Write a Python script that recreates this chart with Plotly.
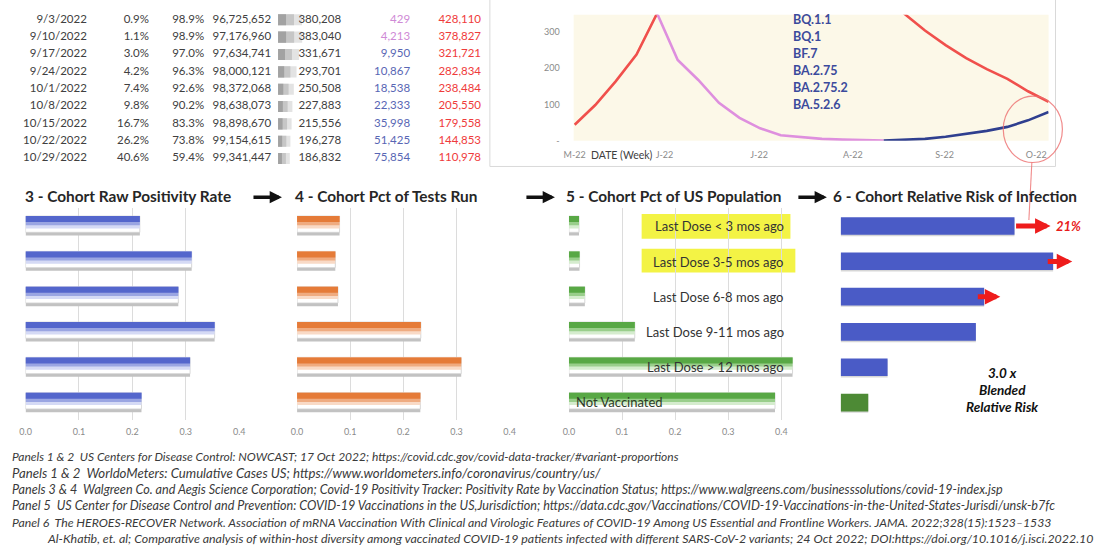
import plotly.graph_objects as go

W, H = 1095, 552
FONT = "Lato, 'Open Sans', sans-serif"

# ---------------- data ----------------
DATES = ['9/3/2022', '9/10/2022', '9/17/2022', '9/24/2022', '10/1/2022',
         '10/8/2022', '10/15/2022', '10/22/2022', '10/29/2022']
PCT_NEW = ['0.9%', '1.1%', '3.0%', '4.2%', '7.4%', '9.8%', '16.7%', '26.2%', '40.6%']
PCT_OLD = ['98.9%', '98.9%', '97.0%', '96.3%', '92.6%', '90.2%', '83.3%', '73.8%', '59.4%']
CUM_POP = [96725652, 97176960, 97634741, 98000121, 98372068, 98638073,
           98898670, 99154615, 99341447]
WEEKLY_CASES = [380208, 383040, 331671, 293701, 250508, 227883, 215556, 196278, 186832]
NEW_VARIANT = [429, 4213, 9950, 10867, 18538, 22333, 35998, 51425, 75854]
OTHER_VARIANT = [428110, 378827, 321721, 282834, 238484, 205550, 179558, 144853, 110978]

WEEKS_RED_A = [0, 1, 2, 3, 4]
RED_A = [44, 98, 164, 237, 350]
WEEKS_PURPLE = [4, 5, 6, 7, 8, 9, 10, 11, 12, 13, 14, 15]
PURPLE = [350, 222, 167, 104, 63, 34, 15, 9, 5, 3, 1, 0.3]
WEEKS_BLUE = [15, 16, 17, 18, 19, 20, 21, 22, 23]
BLUE = [0.3, 2, 5, 11, 18, 27, 38, 56, 79]
WEEKS_RED_B = [15, 16, 17, 18, 19, 20, 21, 22, 23]
RED_B = [400, 349, 303, 263, 227, 197, 170, 136, 107]
MONTH_TICKS = [0, 4.36, 8.95, 13.5, 17.95, 22.4]
MONTH_LABELS = ['M-22', 'J-22', 'J-22', 'A-22', 'S-22', 'O-22']
Y_TICKS = [0, 100, 200, 300]
Y_LABELS = ['-', '100', '200', '300']
VARIANTS = ['BQ.1.1', 'BQ.1', 'BF.7', 'BA.2.75', 'BA.2.75.2', 'BA.5.2.6']

COHORTS = ['Last Dose < 3 mos ago', 'Last Dose 3-5 mos ago', 'Last Dose 6-8 mos ago',
           'Last Dose 9-11 mos ago', 'Last Dose > 12 mos ago', 'Not Vaccinated']
POSITIVITY = [0.214, 0.311, 0.286, 0.354, 0.308, 0.217]
TESTS_RUN = [0.080, 0.072, 0.077, 0.233, 0.309, 0.232]
POPULATION = [0.019, 0.020, 0.030, 0.124, 0.421, 0.388]
REL_RISK = [6.3, 7.7, 5.2, 4.9, 1.7, 1.0]
AX_TICKS = [0, 0.1, 0.2, 0.3, 0.4]
AX_LABELS = ['0.0', '0.1', '0.2', '0.3', '0.4']

TITLES = ['3 - Cohort Raw Positivity Rate', '4 - Cohort Pct of Tests Run',
          '5 - Cohort Pct of US Population', '6 - Cohort Relative Risk of Infection']
SOURCES = [
    "Panels 1 &amp; 2  US Centers for Disease Control: NOWCAST; 17 Oct 2022; https://covid.cdc.gov/covid-data-tracker/#variant-proportions",
    "Panels 1 &amp; 2  WorldoMeters: Cumulative Cases US; https://www.worldometers.info/coronavirus/country/us/",
    "Panels 3 &amp; 4  Walgreen Co. and Aegis Science Corporation; Covid-19 Positivity Tracker: Positivity Rate by Vaccination Status; https://www.walgreens.com/businesssolutions/covid-19-index.jsp",
    "Panel 5  US Center for Disease Control and Prevention: COVID-19 Vaccinations in the US,Jurisdiction; https://data.cdc.gov/Vaccinations/COVID-19-Vaccinations-in-the-United-States-Jurisdi/unsk-b7fc",
    "Panel 6  The HEROES-RECOVER Network. Association of mRNA Vaccination With Clinical and Virologic Features of COVID-19 Among US Essential and Frontline Workers. JAMA. 2022;328(15):1523\u20131533",
    "Al-Khatib, et. al; Comparative analysis of within-host diversity among vaccinated COVID-19 patients infected with different SARS-CoV-2 variants; 24 Oct 2022; DOI:https://doi.org/10.1016/j.isci.2022.10",
]


# ---------------- helpers ----------------
def px(x):
    return x / W


def py(y):
    return 1 - y / H


def dx(a, b):
    return [a / W, b / W]


def dy(top, bottom):
    return [1 - bottom / H, 1 - top / H]


fig = go.Figure()

# ---- table data bars: same data on three scales -> fading gradient ----
BAR0, BAR1 = 272, 336
for ax, col in [('', '#e3e3e3'), ('2', '#c6c6c6'), ('3', '#a2a2a2')]:
    fig.add_trace(go.Bar(x=WEEKLY_CASES, y=DATES, orientation='h',
                         xaxis='x' + ax, yaxis='y' + ax,
                         marker=dict(color=col, line=dict(width=0)), width=0.64,
                         hoverinfo='skip', showlegend=False))

# ---- table text ----
COL_RIGHT = [78, 141, 197, 265, 336, 406, 478]
cols = [
    (DATES, '#404040'),
    (PCT_NEW, '#404040'),
    (PCT_OLD, '#404040'),
    ([f"{v:,}" for v in CUM_POP], '#404040'),
    ([f"{v:,}" for v in WEEKLY_CASES], '#404040'),
    ([f"{v:,}" for v in NEW_VARIANT], ['#cf8ad6', '#cf8ad6'] + ['#5866b4'] * 7),
    ([f"{v:,}" for v in OTHER_VARIANT], '#ef3b3b'),
]
for i, (txt, col) in enumerate(cols):
    fig.add_trace(go.Scatter(x=[COL_RIGHT[i]] * len(DATES), y=DATES, mode='text', text=txt,
                             textposition='middle left', xaxis='x4', yaxis='y4',
                             textfont=dict(family=FONT, size=11.5, color=col),
                             hoverinfo='skip', showlegend=False))

# ---- line chart ----
line_specs = [
    (WEEKS_RED_A, RED_A, '#f0504c'),
    (WEEKS_PURPLE, PURPLE, '#de8fde'),
    (WEEKS_BLUE, BLUE, '#2f3f8f'),
    (WEEKS_RED_B, RED_B, '#f0504c'),
]
for xs, ys, c in line_specs:
    fig.add_trace(go.Scatter(x=xs, y=ys, mode='lines', xaxis='x5', yaxis='y5',
                             line=dict(color=c, width=2.6), hoverinfo='skip',
                             showlegend=False))

# ---- bar panels 3, 4, 5 ----
panel_colors = [
    ('x6', 'y6', POSITIVITY, ('#5466cc', '#9aa5e2', '#d5daf5')),
    ('x7', 'y7', TESTS_RUN, ('#e57b38', '#efab80', '#f9dac6')),
    ('x8', 'y8', POPULATION, ('#58a845', '#99ce8b', '#d5ecce')),
]
for xa, ya, vals, (dark, mid, light) in panel_colors:
    layers = [
        ('#c2c2c2', -0.25, 0.52, 0),
        ('#ffffff', -0.28, 0.46, 0.8),
        (light, -0.28, 0.35, 0),
        (mid, -0.28, 0.26, 0),
        (dark, -0.28, 0.17, 0),
    ]
    for col, off, wid, lw in layers:
        fig.add_trace(go.Bar(x=vals, y=COHORTS, orientation='h', xaxis=xa, yaxis=ya,
                             offset=off, width=wid,
                             marker=dict(color=col, line=dict(width=lw, color='#d2d2d2')),
                             hoverinfo='skip', showlegend=False))

# ---- panel 6 ----
fig.add_trace(go.Bar(x=REL_RISK, y=COHORTS, orientation='h', xaxis='x9', yaxis='y9',
                     offset=-0.21, width=0.5,
                     marker=dict(color='rgba(0,0,0,0.16)', line=dict(width=0)),
                     hoverinfo='skip', showlegend=False))
fig.add_trace(go.Bar(x=REL_RISK, y=COHORTS, orientation='h', xaxis='x9', yaxis='y9',
                     offset=-0.25, width=0.5,
                     marker=dict(color=['#4a5bc6'] * 5 + ['#4d8a35'], line=dict(width=0)),
                     hoverinfo='skip', showlegend=False))

# ---------------- axes ----------------
hidden = dict(visible=False, fixedrange=True)
tbl_y = dict(hidden, type='category', categoryorder='array', categoryarray=DATES,
             range=[len(DATES) - 0.5, -0.5], domain=dy(11.25, 168.75))
panel_y = dict(hidden, type='category', categoryorder='array', categoryarray=COHORTS,
               range=[len(COHORTS) - 0.5, -0.5], domain=dy(210.2, 424.1))
tickfont = dict(family=FONT, size=9, color='#8a8a8a')


def panel_x(a, b, rng):
    return dict(domain=dx(a, b), range=rng, tickvals=AX_TICKS, ticktext=AX_LABELS,
                showgrid=True, gridcolor='#dcdcdc', gridwidth=1, zeroline=False,
                showline=False, ticks='', tickfont=tickfont, ticklabelstandoff=5,
                fixedrange=True)


axes = dict(
    xaxis=dict(hidden, domain=dx(BAR0, BAR1), range=[0, 1000000]),
    xaxis2=dict(hidden, domain=dx(BAR0, BAR1), range=[0, 1500000]),
    xaxis3=dict(hidden, domain=dx(BAR0, BAR1), range=[0, 3000000]),
    xaxis4=dict(hidden, domain=dx(0, 495), range=[0, 495]),
    xaxis5=dict(domain=dx(572, 1054), range=[-0.05, 23], tickvals=MONTH_TICKS,
                ticktext=MONTH_LABELS, showgrid=False, zeroline=False, showline=False,
                ticks='', tickfont=tickfont, ticklabelstandoff=7, fixedrange=True),
    yaxis5=dict(domain=dy(15, 142), range=[0, 346], tickvals=Y_TICKS, ticktext=Y_LABELS,
                showgrid=False, zeroline=False, showline=False, ticks='',
                tickfont=tickfont, ticklabelstandoff=13, fixedrange=True),
    xaxis6=panel_x(15.8, 232.6, [0, 0.4]),
    xaxis7=panel_x(291.3, 507.0, [0, 0.4]),
    xaxis8=panel_x(567.2, 799.0, [0, 0.43]),
    xaxis9=dict(hidden, domain=dx(843, 1095), range=[0, 9]),
)
for k in ('', '2', '3', '4'):
    axes['yaxis' + k] = dict(tbl_y)
for k in ('6', '7', '8', '9'):
    axes['yaxis' + k] = dict(panel_y)
for k in ('', '2', '3', '4', '5', '6', '7', '8', '9'):
    axes['xaxis' + k]['anchor'] = 'y' + k
    axes['yaxis' + k]['anchor'] = 'x' + k

# ---------------- shapes ----------------
RED_THIN = 'rgba(236,110,110,0.8)'
FRAME = dict(color='#d9d9d9', width=1)
shapes = [
    dict(type='rect', xref='x5 domain', yref='y5 domain', x0=0, x1=1, y0=0, y1=1,
         fillcolor='#fcf8e8', line=dict(width=0), layer='below'),
    dict(type='line', xref='paper', yref='paper', x0=px(487), x1=px(487), y0=py(-2), y1=py(168),
         line=FRAME),
    dict(type='line', xref='paper', yref='paper', x0=px(487), x1=px(1061), y0=py(168), y1=py(168),
         line=FRAME),
    dict(type='line', xref='paper', yref='paper', x0=px(1061), x1=px(1061), y0=py(-2), y1=py(168),
         line=FRAME),
    dict(type='circle', xref='paper', yref='paper', x0=px(1008), x1=px(1068), y0=py(97), y1=py(164),
         line=dict(color=RED_THIN, width=1.2)),
    dict(type='line', xref='paper', yref='paper', x0=px(1037), x1=px(1034), y0=py(164), y1=py(222),
         line=dict(color=RED_THIN, width=1.1)),
    dict(type='rect', xref='paper', yref='paper', x0=px(641), x1=px(792), y0=py(241), y1=py(216),
         fillcolor='#f3f345', line=dict(width=0), layer='below'),
    dict(type='rect', xref='paper', yref='paper', x0=px(641), x1=px(797), y0=py(275), y1=py(251),
         fillcolor='#f3f345', line=dict(width=0), layer='below'),
]

# ---------------- annotations ----------------
ann = []


def note(text, x, y, size, color, anchor='left'):
    ann.append(dict(text=text, x=px(x), y=py(y), xref='paper', yref='paper',
                    xanchor=anchor, yanchor='middle', showarrow=False,
                    font=dict(family=FONT, size=size, color=color)))


def arrow(tail, tip, y, width, size, color):
    ann.append(dict(text='', x=px(tip), y=py(y), xref='paper', yref='paper',
                    ax=tail - tip, ay=0, showarrow=True, arrowhead=2, arrowsize=size,
                    arrowwidth=width, arrowcolor=color))


for t, yv in zip(VARIANTS, [20, 37, 54, 71, 88, 105]):
    note(f"<b>{t}</b>", 793, yv, 12.5, '#3b4a9c')
note("DATE (Week)", 588, 156, 10.5, '#404040')

for t, xv in zip(TITLES, [13, 287, 562, 833]):
    note(f"<b>{t}</b>", xv, 198, 15.4, '#262626')
for tail, tip in [(246, 276), (523, 553), (799, 829)]:
    arrow(tail, tip, 199, 3.5, 0.7, '#111111')

row_y = [228, 264, 299.5, 335, 370.5, 406]
for i, t in enumerate(COHORTS):
    if i < 5:
        note(t, 787, row_y[i], 13, '#333333', 'right')
    else:
        note(t, 572, row_y[i], 13, '#2e3a28')

for tail, tip, yv in [(1020, 1056, 228), (1052, 1078, 264), (981, 1005, 299.5)]:
    arrow(tail, tip, yv, 5, 0.62, '#ee1c1c')
note("<b><i>21%</i></b>", 1059, 228, 13, '#e81c1c')
for t, yv in [("3.0 x", 376), ("Blended", 393.5), ("Relative Risk", 410.5)]:
    note(f"<b><i>{t}</i></b>", 1007, yv, 13.5, '#111111', 'center')

src_y = [461, 477.5, 494, 510.5, 527, 543.5]
src_x = [0, 0, 0, 0, 0, 36]
src_size = [12.0, 13.2, 12.6, 12.6, 12.25, 12.4]
for t, xv, yv, s in zip(SOURCES, src_x, src_y, src_size):
    note(f"<i>{t}</i>", xv, yv, s, '#3a3a3a')

fig.update_layout(
    width=W, height=H, margin=dict(l=0, r=0, t=0, b=0),
    paper_bgcolor='white', plot_bgcolor='rgba(0,0,0,0)',
    barmode='overlay', showlegend=False,
    shapes=shapes, annotations=ann,
    font=dict(family=FONT),
    **axes,
)

fig.write_html("out.html", config={'displayModeBar': False},
               post_script="document.body.style.margin='0px';document.body.style.overflow='hidden';")
